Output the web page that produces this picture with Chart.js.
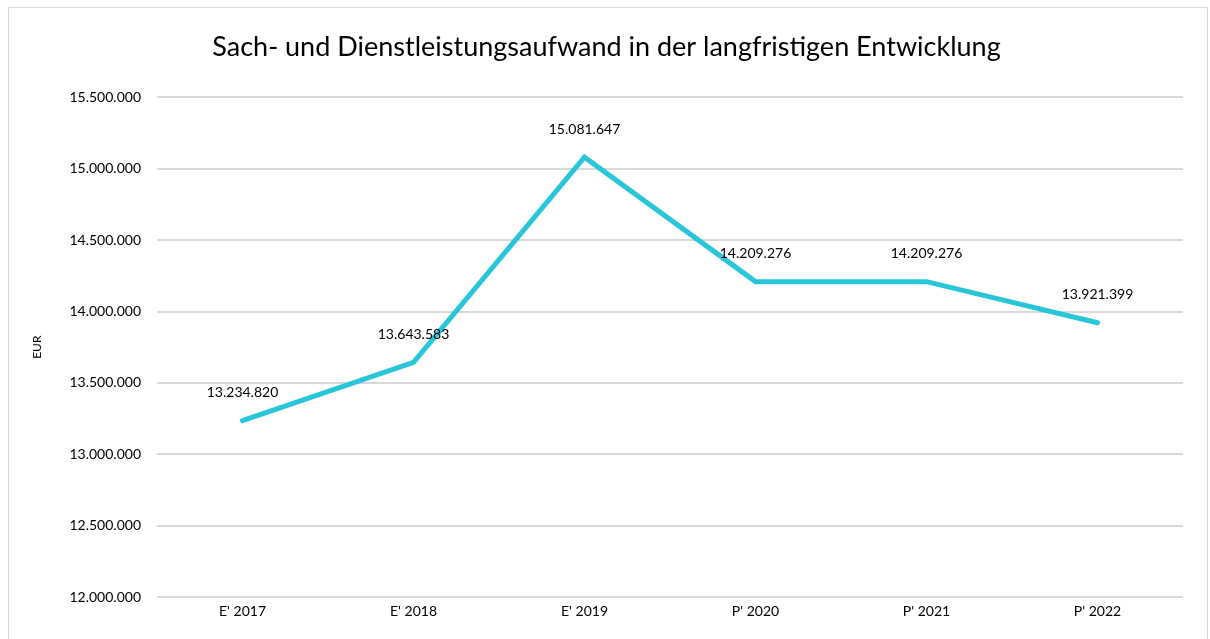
<!DOCTYPE html>
<html><head><meta charset="utf-8">
<script src="https://cdn.jsdelivr.net/npm/chart.js@4/dist/chart.umd.min.js"></script>
<style>
html,body{margin:0;padding:0;background:#fff;}
#frame{position:absolute;left:8px;top:7px;width:1200px;height:700px;border:1px solid #d9d9d9;box-sizing:border-box;}
#wrap{position:absolute;left:0;top:0;width:1210px;height:639px;}
</style></head>
<body>
<div id="frame"></div>
<div id="wrap"><canvas id="c" width="1210" height="639"></canvas></div>
<script>
const categories = ["E' 2017","E' 2018","E' 2019","P' 2020","P' 2021","P' 2022"];
const values = [13234820, 13643583, 15081647, 14209276, 14209276, 13921399];
const titleText = "Sach- und Dienstleistungsaufwand in der langfristigen Entwicklung";
const yAxisLabel = "EUR";

const fmt = v => Math.round(v).toString().replace(/\B(?=(\d{3})+(?!\d))/g, ".");
const FONT = "Lato, 'Liberation Sans', sans-serif";

const labelPlugin = {
  id: 'valLabels',
  afterDatasetsDraw(chart) {
    const ctx = chart.ctx;
    const meta = chart.getDatasetMeta(0);
    ctx.save();
    ctx.font = "14px " + FONT;
    ctx.fillStyle = "#000";
    ctx.textAlign = "center";
    ctx.textBaseline = "middle";
    meta.data.forEach((pt, i) => {
      ctx.fillText(fmt(values[i]), pt.x, pt.y - 28);
    });
    ctx.restore();
  }
};

new Chart(document.getElementById('c'), {
  type: 'line',
  data: {
    labels: categories,
    datasets: [{
      data: values,
      borderColor: '#29C5D9',
      borderWidth: 5,
      borderCapStyle: 'round',
      borderJoinStyle: 'miter',
      pointRadius: 0,
      tension: 0,
      fill: false
    }]
  },
  options: {
    responsive: false,
    animation: false,
    layout: { padding: { left: 30, right: 27, top: 0, bottom: 0 } },
    plugins: {
      legend: { display: false },
      tooltip: { enabled: false },
      title: {
        display: true,
        text: titleText,
        color: '#000',
        font: { family: FONT, size: 27, weight: 'normal', lineHeight: 1.2 },
        padding: { top: 31, bottom: 34 }
      }
    },
    scales: {
      x: {
        offset: true,
        grid: { display: false, drawTicks: false },
        border: { display: false },
        ticks: { color: '#000', font: { family: FONT, size: 14 }, padding: 6 },
        afterFit(s) { s.height = 42; }
      },
      y: {
        min: 12000000,
        max: 15500000,
        grid: { color: '#d9d9d9', lineWidth: 2, drawTicks: false },
        border: { display: false },
        ticks: { stepSize: 500000, color: '#000', font: { family: FONT, size: 14 }, padding: 16, callback: v => fmt(v) },
        title: { display: true, text: yAxisLabel, color: '#000', font: { family: FONT, size: 12 }, padding: 0 },
        afterFit(s) { s.width = 127; }
      }
    }
  },
  plugins: [labelPlugin]
});
</script>
</body></html>
